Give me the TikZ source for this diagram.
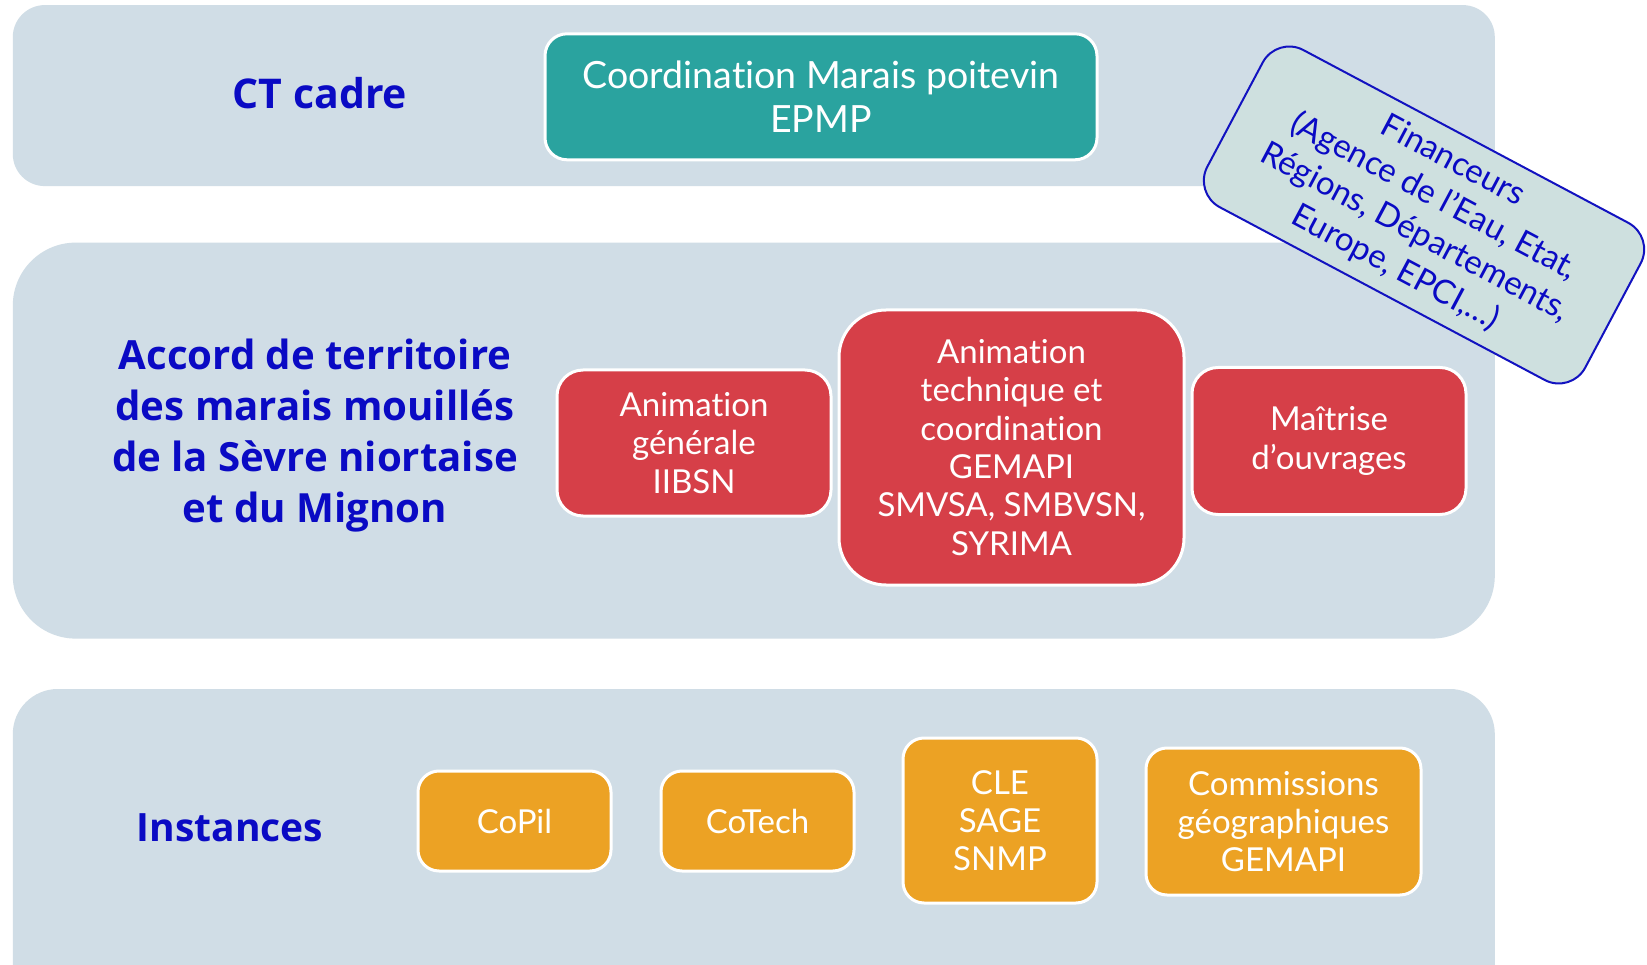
\documentclass[tikz,border=0pt]{standalone}
\usepackage{fontspec}
\setmainfont{Lato}[Ligatures={NoCommon}]
\newfontfamily\titlefont{Open Sans}
\definecolor{bandfill}{HTML}{D0DDE6}
\definecolor{tealbox}{HTML}{2AA39F}
\definecolor{redbox}{HTML}{D63F48}
\definecolor{orangebox}{HTML}{ECA224}
\definecolor{titleblue}{HTML}{0A0AC4}
\definecolor{finfill}{HTML}{CEE0DF}
\definecolor{finborder}{HTML}{1212C0}
\tikzset{
  band/.style={fill=bandfill, draw=none, inner sep=0pt},
  title/.style={text=titleblue, font=\titlefont\bfseries\fontsize{41}{51}\selectfont, align=center, inner sep=0pt},
  wbox/.style={draw=white, line width=3pt, text=white, align=center, inner sep=0pt,
     font=\fontsize{33}{38.3}\selectfont},
  tealstyle/.style={wbox, fill=tealbox, rounded corners=22pt, font=\fontsize{37.5}{44}\selectfont},
  redstyle/.style={wbox, fill=redbox, rounded corners=26pt},
  orangestyle/.style={wbox, fill=orangebox, rounded corners=21pt},
  finstyle/.style={draw=finborder, line width=2pt, fill=finfill, text=titleblue, align=center,
     rounded corners=30pt, inner sep=0pt, font=\fontsize{33}{40.5}\selectfont}
}
\begin{document}
\begin{tikzpicture}[x=1pt,y=1pt]
\useasboundingbox (0,0) rectangle (1647,-965);
\clip (0,0) rectangle (1647,-965);
\fill[white] (0,0) rectangle (1647,-965);
% bands
\node[band, rounded corners=32pt, minimum width=1482pt, minimum height=181pt] (b1) at (753.8,-95.6) {};
\node[band, rounded corners=63pt, minimum width=1482pt, minimum height=396pt] (b2) at (753.8,-440.6) {};
\node[band, rounded corners=45pt, minimum width=1482pt, minimum height=341pt] (b3) at (753.8,-859.5) {};
% titles
\node[title] (t1) at (320,-93.5) {CT cadre};
\node[title, font=\titlefont\bfseries\fontsize{40.2}{51}\selectfont] (t2) at (315,-436) {Accord de territoire\\des marais mouillés\\de la Sèvre niortaise\\et du Mignon};
\node[title, font=\titlefont\bfseries\fontsize{39}{51}\selectfont] (t3) at (230,-827.5) {Instances};
% teal
\node[tealstyle, minimum width=552pt, minimum height=126pt] (coord) at (821,-96.8) {Coordination Marais poitevin\\EPMP};
% red
\node[redstyle, minimum width=274pt, minimum height=146pt] (anim) at (694,-443) {Animation\\générale\\IIBSN};
\node[redstyle, rounded corners=47pt, minimum width=345pt, minimum height=275pt] (tech) at (1011.5,-447.5) {Animation\\technique et\\coordination\\GEMAPI\\SMVSA, SMBVSN,\\SYRIMA};
\node[redstyle, minimum width=274pt, minimum height=147pt] (mo) at (1329,-441) {Maîtrise\\d’ouvrages};
% orange
\node[orangestyle, minimum width=193pt, minimum height=100pt] (copil) at (514.5,-821) {CoPil};
\node[orangestyle, minimum width=193pt, minimum height=100pt] (cotech) at (757.5,-821) {CoTech};
\node[orangestyle, minimum width=194pt, minimum height=165pt] (cle) at (1000,-820.5) {CLE\\SAGE\\SNMP};
\node[orangestyle, minimum width=275pt, minimum height=147pt] (comm) at (1283.5,-821.5) {Commissions\\géographiques\\GEMAPI};
% financeurs
\node[finstyle, rotate=-28, minimum width=428pt, minimum height=178pt] (fin) at (1424,-215) {Financeurs\\(Agence de l’Eau, Etat,\\Régions, Départements,\\Europe, EPCI,…)};
\end{tikzpicture}
\end{document}
